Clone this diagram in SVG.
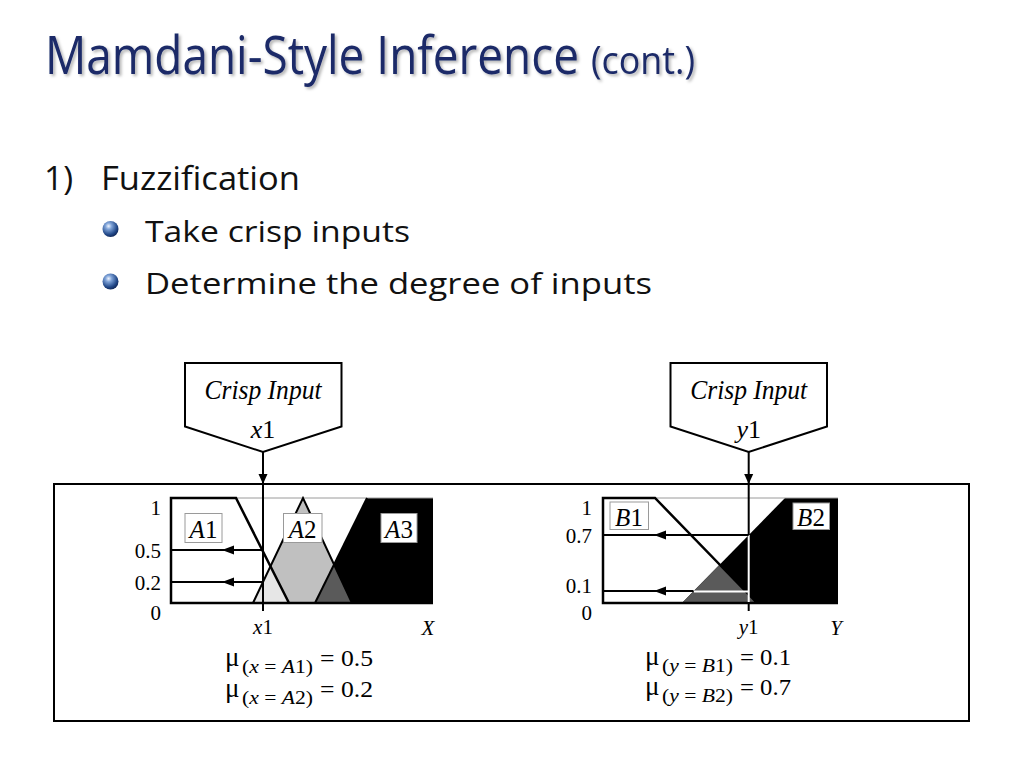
<svg xmlns="http://www.w3.org/2000/svg" width="1024" height="768" viewBox="0 0 1024 768">
<defs>
  <radialGradient id="ball" cx="0.38" cy="0.32" r="0.7">
    <stop offset="0" stop-color="#eef4ff"/>
    <stop offset="0.28" stop-color="#7fa3d8"/>
    <stop offset="0.75" stop-color="#234a8a"/>
    <stop offset="1" stop-color="#10285a"/>
  </radialGradient>
  <filter id="shadow" x="-5%" y="-20%" width="110%" height="150%">
    <feDropShadow dx="2" dy="2" stdDeviation="1.5" flood-color="#000" flood-opacity="0.3"/>
  </filter>
  <marker id="arr" viewBox="0 0 10 12" refX="10" refY="6" markerWidth="10" markerHeight="12" markerUnits="userSpaceOnUse" orient="auto">
    <path d="M0,1.5 L10,6 L0,10.5 Z" fill="#000"/>
  </marker>
  <path id="ah" d="M0,0 L12,-4.5 L12,4.5 Z" fill="#000"/>
</defs>
<style>
  .title{font-family:"Open Sans","Noto Sans",sans-serif;fill:#1b2a68}
  .body{font-family:"Open Sans","Noto Sans",sans-serif;fill:#111}
  .tm{font-family:"Liberation Serif","Times New Roman",serif;fill:#000}
  .it{font-style:italic}
  .thick{stroke:#000;stroke-width:2.5;fill:none;stroke-linejoin:miter}
  .edge{stroke:#000;stroke-width:2;fill:none}
  .grid{stroke:#9a9a9a;stroke-width:1;fill:none}
  .lbl{fill:#fff;stroke:#9a9a9a;stroke-width:1}
  .conn{stroke:#000;stroke-width:2;fill:none}
  .box{fill:#fff;stroke:#000;stroke-width:2}
</style>

<g id="title" filter="url(#shadow)">
  <text class="title" transform="translate(45,74) scale(0.86,1)" font-size="53" textLength="621" lengthAdjust="spacingAndGlyphs">Mamdani-Style Inference</text>
  <text class="title" transform="translate(591,74) scale(0.86,1)" font-size="39" textLength="121" lengthAdjust="spacingAndGlyphs">(cont.)</text>
</g>

<g id="bullets">
  <text class="body" x="44" y="190" font-size="32" textLength="29" lengthAdjust="spacingAndGlyphs">1)</text>
  <text class="body" x="101" y="190" font-size="32" textLength="199" lengthAdjust="spacingAndGlyphs">Fuzzification</text>
  <circle cx="110.5" cy="229" r="8" fill="url(#ball)"/>
  <text class="body" x="145" y="242" font-size="29" textLength="265" lengthAdjust="spacingAndGlyphs">Take crisp inputs</text>
  <circle cx="110.5" cy="281.5" r="8" fill="url(#ball)"/>
  <text class="body" x="145" y="294" font-size="29" textLength="507" lengthAdjust="spacingAndGlyphs">Determine the degree of inputs</text>
</g>

<g id="crisp-x1">
  <path class="box" d="M185,363 L341.5,363 L341.5,426.5 L263,452 L185,426.5 Z"/>
  <text class="tm it" x="263" y="399" font-size="27" text-anchor="middle" textLength="117" lengthAdjust="spacingAndGlyphs">Crisp Input</text>
  <text class="tm" x="263" y="438" font-size="26" text-anchor="middle"><tspan class="it">x</tspan>1</text>
</g>

<g id="crisp-y1">
  <path class="box" d="M670.5,363 L827,363 L827,426.5 L748.7,452 L670.5,426.5 Z"/>
  <text class="tm it" x="748.7" y="399" font-size="27" text-anchor="middle" textLength="117" lengthAdjust="spacingAndGlyphs">Crisp Input</text>
  <text class="tm" x="748.7" y="438" font-size="26" text-anchor="middle"><tspan class="it">y</tspan>1</text>
</g>

<g id="frame">
  <rect x="54" y="484" width="915" height="237" fill="none" stroke="#000" stroke-width="2"/>
</g>

<g id="chart-x">
  <polygon points="171,498 236,498 289,603 171,603" fill="#fff"/>
  <polygon points="315,603 367,498 433,498 433,603" fill="#000"/>
  <polygon points="253,603 303,498 352,603" fill="#c0c0c0"/>
  <polygon points="253,603 270.5,566.3 289,603" fill="#e6e6e6"/>
  <polygon points="315,603 334,564.5 352,603" fill="#5a5a5a"/>
  <line class="grid" x1="236" y1="498" x2="433" y2="498"/>
  <polyline class="edge" points="253,603 303,498 352,603"/>
  <line class="edge" x1="315" y1="603" x2="367" y2="498"/>
  <polyline class="thick" points="289,603 236,498 171,498 171,603 433,603"/>
  <rect class="lbl" x="185" y="513.5" width="37" height="29"/>
  <text class="tm" x="203.5" y="538" font-size="25" text-anchor="middle"><tspan class="it">A</tspan>1</text>
  <rect class="lbl" x="283.5" y="513.5" width="38.5" height="29" stroke="none"/>
  <text class="tm" x="302.7" y="538" font-size="25" text-anchor="middle"><tspan class="it">A</tspan>2</text>
  <rect class="lbl" x="381" y="513.5" width="36" height="29" stroke="none"/>
  <text class="tm" x="399" y="538" font-size="25" text-anchor="middle"><tspan class="it">A</tspan>3</text>
  <text class="tm" x="161" y="515" font-size="21" text-anchor="end">1</text>
  <text class="tm" x="161" y="558" font-size="21" text-anchor="end">0.5</text>
  <text class="tm" x="161" y="590" font-size="21" text-anchor="end">0.2</text>
  <text class="tm" x="161" y="620" font-size="21" text-anchor="end">0</text>
  <text class="tm" x="263" y="634" font-size="21" text-anchor="middle"><tspan class="it">x</tspan>1</text>
  <text class="tm it" x="428" y="635" font-size="21" text-anchor="middle">X</text>
</g>

<g id="chart-y">
  <polygon points="603,498 655,498 757,603 603,603" fill="#fff"/>
  <polygon points="682,603 785,498 838,498 838,603" fill="#000"/>
  <polygon points="682,603 719.7,564.6 757,603" fill="#5a5a5a"/>
  <line class="grid" x1="655" y1="498" x2="838" y2="498"/>
  <polyline class="thick" points="757,603 655,498 603,498 603,603 838,603"/>
  <rect class="lbl" x="610" y="502" width="38.5" height="27.5"/>
  <text class="tm" x="629" y="525.5" font-size="25" text-anchor="middle"><tspan class="it">B</tspan>1</text>
  <rect class="lbl" x="793" y="503" width="36.5" height="26.5" stroke="none"/>
  <text class="tm" x="811" y="525.5" font-size="25" text-anchor="middle"><tspan class="it">B</tspan>2</text>
  <text class="tm" x="592" y="515" font-size="21" text-anchor="end">1</text>
  <text class="tm" x="592" y="543" font-size="21" text-anchor="end">0.7</text>
  <text class="tm" x="592" y="593" font-size="21" text-anchor="end">0.1</text>
  <text class="tm" x="592" y="620" font-size="21" text-anchor="end">0</text>
  <text class="tm" x="748.7" y="634" font-size="21" text-anchor="middle"><tspan class="it">y</tspan>1</text>
  <text class="tm it" x="836" y="635" font-size="21" text-anchor="middle">Y</text>
</g>

<g id="connectors">
  <line class="conn" x1="263" y1="452" x2="263" y2="484" marker-end="url(#arr)"/>
  <line class="conn" x1="263" y1="484" x2="263" y2="611"/>
  <line class="conn" x1="263" y1="550" x2="171" y2="550"/>
  <use href="#ah" x="222" y="550"/>
  <line class="conn" x1="263" y1="582" x2="171" y2="582"/>
  <use href="#ah" x="222" y="582"/>

  <line class="conn" x1="748.7" y1="452" x2="748.7" y2="484" marker-end="url(#arr)"/>
  <line class="conn" x1="748.7" y1="484" x2="748.7" y2="535"/>
  <line x1="748.7" y1="535" x2="748.7" y2="602" stroke="#fff" stroke-width="2"/>
  <line class="conn" x1="748.7" y1="603" x2="748.7" y2="611"/>
  <line class="conn" x1="748.7" y1="535" x2="603" y2="535"/>
  <use href="#ah" x="654" y="535"/>
  <line class="conn" x1="693.5" y1="591" x2="603" y2="591"/>
  <line x1="694" y1="591.5" x2="748.7" y2="591.5" stroke="#fff" stroke-width="2"/>
  <use href="#ah" x="654" y="591"/>
</g>

<g id="formulas">
  <text class="tm" x="225" y="666" font-size="27">μ</text>
  <text class="tm" x="242" y="673" font-size="18" textLength="71" lengthAdjust="spacingAndGlyphs">(<tspan class="it">x</tspan> = <tspan class="it">A</tspan>1)</text>
  <text class="tm" x="320" y="666" font-size="23" textLength="53" lengthAdjust="spacingAndGlyphs">= 0.5</text>
  <text class="tm" x="225" y="697" font-size="27">μ</text>
  <text class="tm" x="242" y="704" font-size="18" textLength="71" lengthAdjust="spacingAndGlyphs">(<tspan class="it">x</tspan> = <tspan class="it">A</tspan>2)</text>
  <text class="tm" x="320" y="697" font-size="23" textLength="53" lengthAdjust="spacingAndGlyphs">= 0.2</text>

  <text class="tm" x="645" y="665" font-size="27">μ</text>
  <text class="tm" x="662" y="672" font-size="18" textLength="71" lengthAdjust="spacingAndGlyphs">(<tspan class="it">y</tspan> = <tspan class="it">B</tspan>1)</text>
  <text class="tm" x="740" y="665" font-size="23" textLength="51" lengthAdjust="spacingAndGlyphs">= 0.1</text>
  <text class="tm" x="645" y="695" font-size="27">μ</text>
  <text class="tm" x="662" y="702" font-size="18" textLength="71" lengthAdjust="spacingAndGlyphs">(<tspan class="it">y</tspan> = <tspan class="it">B</tspan>2)</text>
  <text class="tm" x="740" y="695" font-size="23" textLength="51" lengthAdjust="spacingAndGlyphs">= 0.7</text>
</g>
</svg>
